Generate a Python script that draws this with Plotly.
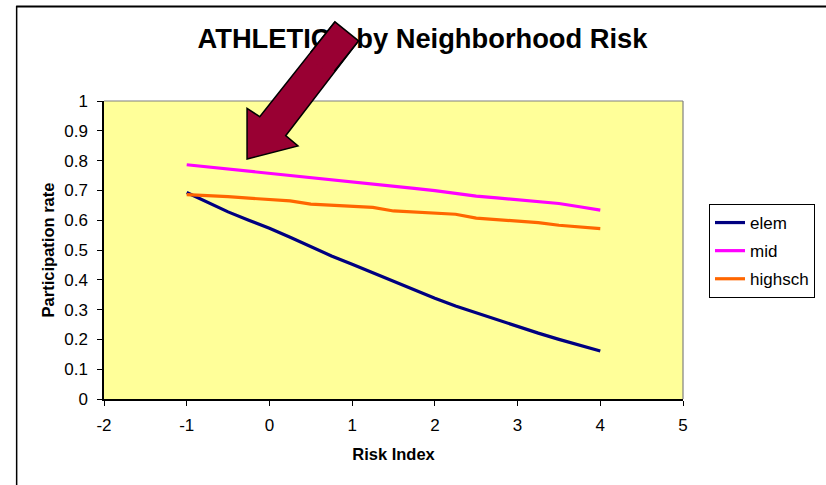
import plotly.graph_objects as go

# ---------------- data ----------------
risk_index = [-1, -0.75, -0.5, -0.25, 0, 0.25, 0.5, 0.75, 1, 1.25, 1.5,
              1.75, 2, 2.25, 2.5, 2.75, 3, 3.25, 3.5, 3.75, 4]
elem = [0.693, 0.660, 0.628, 0.600, 0.573, 0.543, 0.511, 0.480, 0.452, 0.423, 0.394,
        0.366, 0.338, 0.312, 0.289, 0.266, 0.243, 0.221, 0.200, 0.180, 0.161]
mid = [0.786, 0.779, 0.771, 0.764, 0.757, 0.751, 0.744, 0.737, 0.729, 0.722, 0.714,
       0.707, 0.699, 0.690, 0.681, 0.675, 0.669, 0.662, 0.656, 0.645, 0.634]
highsch = [0.686, 0.683, 0.679, 0.674, 0.669, 0.665, 0.654, 0.650, 0.646, 0.643, 0.631,
           0.627, 0.624, 0.620, 0.607, 0.602, 0.597, 0.592, 0.583, 0.577, 0.572]
series_names = ["elem", "mid", "highsch"]
x_tick_vals = [-2, -1, 0, 1, 2, 3, 4, 5]
x_tick_labels = ["-2", "-1", "0", "1", "2", "3", "4", "5"]
title_text = "ATHLETICS by Neighborhood Risk"
x_title = "Risk Index"
y_title = "Participation rate"

# ---------------- layout geometry ----------------
W, H = 826, 485
PL, PR, PT, PB = 104, 684, 101, 399   # plot area in pixels
FONT = "Liberation Sans, Arial, Helvetica, sans-serif"


def px(x):
    return (x - PL) / (PR - PL)


def py(y):
    return (PB - y) / (PB - PT)


colors = {"elem": "#000080", "mid": "#FF00FF", "highsch": "#FF6600"}
values = {"elem": elem, "mid": mid, "highsch": highsch}

fig = go.Figure()
for name in series_names:
    fig.add_trace(go.Scatter(
        x=risk_index, y=values[name], name=name, mode="lines", legendgroup=name,
        line=dict(color=colors[name], width=3.2),
    ))

# arrow polygon (pixels)
arrow_pts = [(247.3, 159), (247.3, 108.3), (260, 116.7), (335, 22.3),
             (358.3, 41.7), (286, 135.7), (298.3, 146)]
path = "M " + " L ".join(f"{px(a):.5f},{py(b):.5f}" for a, b in arrow_pts) + " Z"

shapes = [
    # plot-area border (top & right, grey)
    dict(type="line", xref="paper", yref="paper", x0=0, x1=1, y0=1, y1=1,
         line=dict(color="#808080", width=1.2)),
    dict(type="line", xref="paper", yref="paper", x0=1, x1=1, y0=0, y1=1,
         line=dict(color="#808080", width=1.2)),
    # outer chart border
    dict(type="line", xref="paper", yref="paper", x0=px(16), x1=px(840), y0=py(6.5), y1=py(6.5),
         line=dict(color="black", width=2)),
    dict(type="line", xref="paper", yref="paper", x0=px(16.5), x1=px(16.5), y0=py(6), y1=py(500),
         line=dict(color="black", width=1.5)),
    # arrow
    dict(type="path", xref="paper", yref="paper", path=path,
         fillcolor="#990033", line=dict(color="black", width=1.5), layer="above"),
]

# overlay of shaft top so that the arrow covers the title
tail = ((335 + 358.3) / 2, (22.3 + 41.7) / 2)
d = (-0.622, 0.783)


def shaft_ann(start_off, end_off, width, color):
    sx, sy = tail[0] + start_off * d[0], tail[1] + start_off * d[1]
    ex, ey = tail[0] + end_off * d[0], tail[1] + end_off * d[1]
    return dict(xref="paper", yref="paper", x=px(ex), y=py(ey),
                ax=sx - ex, ay=sy - ey, axref="pixel", ayref="pixel",
                text=" ", font=dict(size=1), borderpad=0, borderwidth=0,
                showarrow=True, arrowhead=0, arrowwidth=width, arrowcolor=color)


annotations = [
    shaft_ann(-1.6, 38, 31.8, "black"),
    shaft_ann(0, 44, 28.6, "#990033"),
]

fig.update_layout(
    width=W, height=H,
    margin=dict(l=PL, r=W - PR, t=PT, b=H - PB, pad=0),
    paper_bgcolor="white",
    plot_bgcolor="#FFFF99",
    font=dict(family=FONT, color="black", size=17),
    title=dict(text="<b>" + title_text + "</b>", font=dict(size=27.3, family=FONT, color="black"),
               x=422.5 / W, xref="container", xanchor="center",
               y=1 - 38 / H, yref="container", yanchor="middle"),
    xaxis=dict(range=[-2, 5], tickvals=x_tick_vals, ticktext=x_tick_labels,
               showgrid=False, zeroline=False, showline=True, linecolor="black", linewidth=1.5,
               ticks="outside", ticklen=5, tickwidth=1, tickcolor="black",
               tickfont=dict(size=17), ticklabelstandoff=5,
               title=dict(text="<b>" + x_title + "</b>", font=dict(size=16.5), standoff=14)),
    yaxis=dict(range=[0, 1], dtick=0.1, tick0=0,
               showgrid=False, zeroline=False, showline=True, linecolor="black", linewidth=1.5,
               ticks="outside", ticklen=5, tickwidth=1, tickcolor="black",
               tickfont=dict(size=17), ticklabelstandoff=6,
               title=dict(text="<b>" + y_title + "</b>", font=dict(size=16.5), standoff=5)),
    legend=dict(x=px(709), y=py(204), xanchor="left", yanchor="top",
                bgcolor="white", bordercolor="black", borderwidth=1,
                font=dict(size=17), tracegroupgap=3, itemwidth=30),
    shapes=shapes,
    annotations=annotations,
    showlegend=True,
)

fig.write_html("out.html", config={"displayModeBar": False},
               post_script="document.body.style.margin='0';document.body.style.overflow='hidden';")
